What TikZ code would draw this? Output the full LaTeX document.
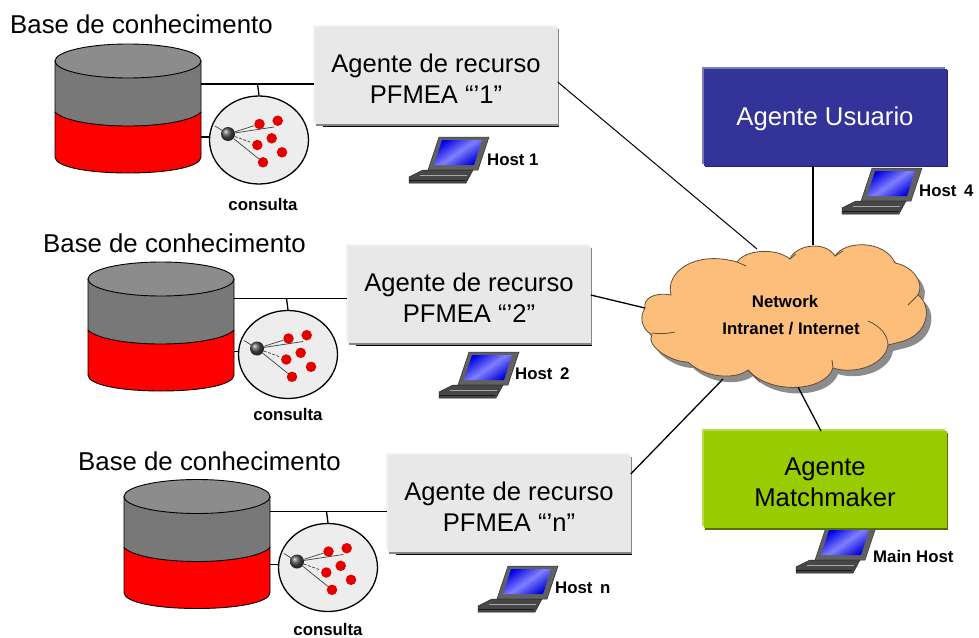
\documentclass[tikz,border=0pt]{standalone}
\usepackage{fontspec}
\setmainfont{Liberation Sans}
\definecolor{cloudfill}{HTML}{FDBE7C}
\definecolor{cloudedge}{HTML}{5E4F38}
\definecolor{userblue}{HTML}{333399}
\definecolor{mmgreen}{HTML}{99CC00}
\tikzset{
  x=1pt,y=-1pt,
  link/.style={draw=black,line width=1.3pt},
  agentbox/.style n args={3}{rectangle,inner sep=0pt,minimum width=243pt,minimum height=97pt,align=center,
     fill=#1,
     preaction={fill=#3,transform canvas={xshift=1.6pt,yshift=-1.6pt}},
     preaction={fill=#2,transform canvas={xshift=-1.6pt,yshift=1.6pt}}},
  resbox/.style={agentbox={black!9}{black!5}{black!48},font=\fontsize{25.6}{31}\selectfont},
  titletext/.style={inner sep=0pt,anchor=base west,font=\fontsize{25.8}{30}\selectfont},
  smalltext/.style={inner sep=0pt,font=\fontsize{16.8}{20}\selectfont\bfseries},
  querycircle/.style={ellipse,draw=black,line width=1.3pt,fill=black!7,inner sep=0pt,minimum width=99pt,minimum height=88pt},
  reddot/.style={circle,fill=red!90!black,inner sep=0pt,minimum size=10.5pt},
  ballnode/.style={circle,inner sep=0pt,minimum size=14pt,ball color=black!70},
  thinlink/.style={draw=black!75,line width=.7pt},
}
\usetikzlibrary{shapes.geometric}
% #1 prefix, #2 cylinder shift, #3 circle shift, #4 title shift, #5 caption position
\newcommand{\KnowledgeBase}[5]{%
  \begin{scope}[shift={(#2)}]
    \path[fill=red,draw=black,line width=.9pt] (55,112) -- (55,157) .. controls (55,167) and (88,173) .. (128,173) .. controls (168,173) and (201,167) .. (201,157) -- (201,112) -- cycle;
    \path[fill=black!53,draw=black,line width=.9pt] (55,61) -- (55,112) .. controls (62,120) and (92,126) .. (128,126) .. controls (164,126) and (194,120) .. (201,112) -- (201,61) -- cycle;
    \path[fill=black!45,draw=black,line width=.9pt] (128,61) ellipse [x radius=73,y radius=17];
    \coordinate (#1dbE) at (201,110);
  \end{scope}
  \begin{scope}[shift={(#3)}]
    \node[querycircle] (#1q) at (259,140) {};
    \node[ballnode] (#1ball) at (228,134) {};
    \node[reddot] (#1r1) at (259.5,124) {};
    \node[reddot] (#1r2) at (277.7,120.7) {};
    \node[reddot] (#1r3) at (271.7,138.3) {};
    \node[reddot] (#1r4) at (257.3,145) {};
    \node[reddot] (#1r5) at (282,152.3) {};
    \node[reddot] (#1r6) at (263,162.3) {};
    \coordinate (#1tail) at (215,126);
    \coordinate (#1ray) at (274,127);
    \coordinate (#1short) at (250,142);
    \coordinate (#1tee) at (257.5,84);
    \coordinate (#1low) at (210,137);
    \draw[thinlink] (#1ball) -- (#1r1);
    \draw[thinlink] (#1ball) -- (#1ray);
    \draw[thinlink,dashed,dash pattern=on 3pt off 1.5pt] (#1ball) -- (#1short);
    \draw[thinlink] (#1ball) -- (#1r6);
    \draw[thinlink] (#1ball) -- (#1tail);
  \end{scope}
  \node[smalltext,anchor=base] (#1cap) at (#5) {consulta};
  \begin{scope}[shift={(#4)}]
    \node[titletext] (#1title) at (10,33) {Base de conhecimento};
  \end{scope}
}
% laptop: #1 prefix, #2 shift
\newcommand{\Laptop}[2]{%
  \begin{scope}[shift={(#2)}]
    \fill[black!62,draw=black!80,line width=.5pt] (439,137) -- (489,137) -- (478,170) -- (428,170) -- cycle;
    \shade[left color=blue!90!black,right color=blue!85!black,middle color=blue!50!white,shading angle=35] (442,140) -- (482,140) -- (474,165) -- (434,165) -- cycle;
    \fill[black!72,draw=black!85,line width=.5pt] (409,177) -- (423,170) -- (473,170) -- (466,183) -- (409,183) -- cycle;
    \draw[black!35,line width=.6pt] (420,175) -- (467,175);
    \draw[black!90,line width=1pt] (409,180) -- (465,180);
  \end{scope}
}
\begin{document}
\begin{tikzpicture}
\useasboundingbox[fill=white] (0,0) rectangle (979,637);

% --- left groups ---
\KnowledgeBase{a}{0,0}{0,0}{0,0}{263,210}
\KnowledgeBase{b}{33,218}{29,214.5}{33,219}{288,420}
\KnowledgeBase{c}{69,435.5}{69,427.5}{68,437}{328,635}

\Laptop{la}{0,0}
\Laptop{lb}{30,215}
\Laptop{lc}{69,429}
\Laptop{ld}{433,31}
\Laptop{le}{387,390}

% --- agent boxes ---
\node[resbox] (ra) at (436,75.5) {\rule{0pt}{24pt}Agente de recurso\\PFMEA “’1”};
\node[resbox] (rb) at (469,294.5) {\rule{0pt}{24pt}Agente de recurso\\PFMEA “’2”};
\node[resbox] (rc) at (509,503.5) {\rule{0pt}{24pt}Agente de recurso\\PFMEA “’n”};
\foreach \b in {ra,rb,rc}{\draw[black,line width=1.3pt] ([xshift=9pt,yshift=-2pt]\b.south west) -- ([xshift=1pt,yshift=-2pt]\b.south east);}

\node[agentbox={userblue}{userblue!65!white}{userblue!70!black},text=white,font=\fontsize{25.7}{31}\selectfont] (user) at (825,117) {\rule{0pt}{23pt}Agente Usuario};
\node[agentbox={mmgreen}{mmgreen!70!white}{mmgreen!55!black},text=black,font=\fontsize{25.7}{31}\selectfont] (match) at (825,479.5) {\rule{0pt}{24pt}Agente\\Matchmaker};

% --- cloud ---
\newcommand{\CloudPath}{(645,308) .. controls (643,298) and (655,292) .. (671,295)
  .. controls (665,272) and (695,250) .. (737,262)
  .. controls (745,250) and (775,247) .. (790,259)
  .. controls (795,245) and (825,240) .. (835,256)
  .. controls (845,240) and (885,240) .. (895,263)
  .. controls (912,266) and (925,282) .. (918,295)
  .. controls (932,305) and (930,335) .. (900,342)
  -- (888,345)
  .. controls (885,365) and (855,375) .. (833,368)
  .. controls (825,392) and (770,395) .. (748,370)
  .. controls (735,380) and (705,378) .. (688,362)
  .. controls (670,362) and (645,345) .. (652,335)
  .. controls (640,328) and (640,315) .. (645,308) -- cycle}
\fill[black!45,transform canvas={xshift=5pt,yshift=-6pt}] \CloudPath;
\path[fill=cloudfill,draw=cloudedge,line width=.8pt] \CloudPath;
\begin{scope}[draw=cloudedge,line width=.8pt]
  \draw (675,332) .. controls (665,334) and (658,334) .. (652,333);
  \draw (737,262) -- (746,266);
  \draw (790,259) -- (796,254);
  \draw (835,256) -- (843,251);
  \draw (908,305) -- (918,295);
  \draw (868,321) .. controls (880,326) and (888,335) .. (888,345);
  \draw (833,368) -- (832,360);
  \draw (748,370) -- (760,382);
\end{scope}
\coordinate (cloudA) at (757,249);
\coordinate (cloudB) at (645,308);
\coordinate (cloudC) at (723,379);
\coordinate (cloudD) at (813,245);
\coordinate (cloudE) at (798,387);
\coordinate (matchTop) at (821,431);
\node[smalltext,anchor=base] (net) at (785,307) {Network};
\node[smalltext,anchor=base] (inet) at (791,334) {Intranet / Internet};

% --- connectors ---
\foreach \p/\r in {a/ra,b/rb,c/rc}{
  \draw[link] (\p dbE |- \p tee) -- (\p tee -| \r.west);
  \draw[link] (\p tee) -- (\p q.north);
  \draw[link] (\p dbE |- \p low) -- (\p low);
}
\draw[link,line width=1pt] (ra.east |- 0,82) -- (cloudA);
\draw[link] (rb.east |- 0,295) -- (cloudB);
\draw[link] (rc.east |- 0,474) -- (cloudC);
\draw[link] (user.south -| cloudD) -- (cloudD);
\draw[link] (cloudE) -- (matchTop);

% --- host labels ---
\node[smalltext,anchor=base west] (h1) at (487,165) {Host 1};
\node[smalltext,anchor=base west] (h2) at (515,379) {Host\hspace{3pt} 2};
\node[smalltext,anchor=base west] (h3) at (555,593) {Host\hspace{3pt} n};
\node[smalltext,anchor=base west] (h4) at (919,196) {Host\hspace{3pt} 4};
\node[smalltext,anchor=base west] (h5) at (873,562) {Main Host};
\end{tikzpicture}
\end{document}
